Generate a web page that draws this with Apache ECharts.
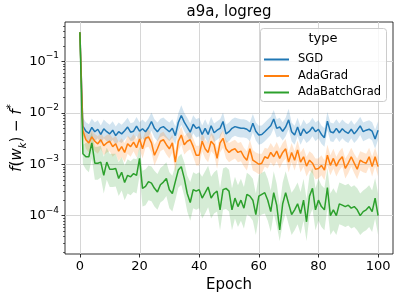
<!DOCTYPE html>
<html><head><meta charset="utf-8">
<script src="https://cdn.jsdelivr.net/npm/echarts@6/dist/echarts.min.js"></script>
<style>html,body{margin:0;padding:0;background:#fff}#c{width:399px;height:299px}</style>
</head><body><div id="c"></div>
<script>
// ---------- data ----------
const epochs = Array.from({length: 101}, (_, i) => i);
// x axis positions from -5 to 105 (the plot has a small margin on both sides of epochs 0..100)
const xCategories = Array.from({length: 111}, (_, i) => String(i - 5));
const seriesNames = ['SGD', 'AdaGrad', 'AdaBatchGrad'];
const xTicks = [0, 20, 40, 60, 80, 100];
const yTicks = [1e-4, 1e-3, 1e-2, 1e-1];

const sgdMean = [0.37,
5.5e-3,4.4e-3,4.0e-3,5.2e-3,4.3e-3,4.8e-3,3.8e-3,4.9e-3,4.3e-3,3.9e-3,
4.6e-3,3.6e-3,4.3e-3,3.9e-3,4.5e-3,5.3e-3,4.2e-3,4.4e-3,5.5e-3,4.4e-3,
4.9e-3,4.3e-3,5.2e-3,6.8e-3,5.0e-3,4.3e-3,5.1e-3,5.4e-3,4.8e-3,4.3e-3,
5.0e-3,3.6e-3,6.5e-3,8.9e-3,6.6e-3,5.3e-3,4.2e-3,6.0e-3,5.0e-3,5.3e-3,
3.8e-3,5.0e-3,3.8e-3,5.6e-3,4.1e-3,4.6e-3,5.0e-3,6.8e-3,3.9e-3,4.3e-3,
5.0e-3,5.4e-3,5.2e-3,5.0e-3,5.0e-3,4.8e-3,4.3e-3,6.3e-3,4.4e-3,3.7e-3,
3.8e-3,4.3e-3,4.9e-3,5.6e-3,7.6e-3,5.0e-3,5.3e-3,4.4e-3,5.3e-3,7.3e-3,
4.3e-3,3.7e-3,5.3e-3,3.6e-3,4.9e-3,4.0e-3,4.4e-3,5.3e-3,4.3e-3,4.8e-3,
3.8e-3,3.3e-3,6.9e-3,4.3e-3,4.1e-3,5.0e-3,4.1e-3,4.9e-3,4.3e-3,4.0e-3,
4.8e-3,3.9e-3,4.6e-3,5.6e-3,4.3e-3,4.6e-3,4.8e-3,4.4e-3,3.1e-3,4.6e-3];
const sgdUpper = [0.38,
8.0e-3,6.6e-3,6.0e-3,7.8e-3,6.5e-3,7.2e-3,5.7e-3,7.4e-3,6.5e-3,5.9e-3,
6.9e-3,5.4e-3,6.5e-3,5.9e-3,6.8e-3,8.0e-3,6.3e-3,6.6e-3,8.3e-3,6.6e-3,
7.4e-3,6.5e-3,7.8e-3,1.02e-2,7.5e-3,6.5e-3,7.7e-3,8.1e-3,7.2e-3,6.5e-3,
7.5e-3,5.4e-3,9.8e-3,1.4e-2,1.0e-2,8.0e-3,6.3e-3,9.0e-3,7.5e-3,8.0e-3,
5.7e-3,7.5e-3,5.7e-3,8.4e-3,6.2e-3,6.9e-3,7.5e-3,1.02e-2,5.9e-3,6.5e-3,
7.5e-3,8.1e-3,7.8e-3,7.5e-3,7.5e-3,7.2e-3,6.5e-3,9.5e-3,6.6e-3,5.6e-3,
5.7e-3,6.5e-3,7.4e-3,8.4e-3,1.14e-2,7.5e-3,8.0e-3,6.6e-3,8.0e-3,1.2e-2,
6.5e-3,5.6e-3,8.0e-3,5.4e-3,7.4e-3,6.0e-3,6.6e-3,8.0e-3,6.5e-3,7.2e-3,
5.7e-3,5.0e-3,1.04e-2,6.5e-3,6.2e-3,7.5e-3,6.2e-3,7.4e-3,6.5e-3,6.0e-3,
7.2e-3,5.9e-3,6.9e-3,8.4e-3,6.5e-3,6.9e-3,7.2e-3,6.6e-3,4.7e-3,6.9e-3];
const sgdLower = [0.36,
3.6e-3,2.9e-3,2.6e-3,3.4e-3,2.8e-3,3.2e-3,2.5e-3,3.2e-3,2.8e-3,2.6e-3,
3.0e-3,2.4e-3,2.8e-3,2.6e-3,3.0e-3,3.5e-3,2.8e-3,2.9e-3,3.6e-3,2.9e-3,
3.2e-3,2.8e-3,3.4e-3,4.5e-3,3.3e-3,2.8e-3,3.4e-3,3.6e-3,3.2e-3,2.8e-3,
3.3e-3,2.4e-3,4.3e-3,5.9e-3,4.4e-3,3.5e-3,2.8e-3,4.0e-3,3.3e-3,3.5e-3,
2.5e-3,3.3e-3,2.5e-3,3.7e-3,2.7e-3,3.0e-3,3.3e-3,4.5e-3,2.6e-3,2.8e-3,
3.3e-3,3.6e-3,3.4e-3,3.3e-3,3.3e-3,3.2e-3,2.8e-3,4.2e-3,2.9e-3,2.4e-3,
2.5e-3,2.8e-3,3.2e-3,3.7e-3,5.0e-3,3.3e-3,3.5e-3,2.9e-3,3.5e-3,4.8e-3,
2.8e-3,2.4e-3,3.5e-3,2.4e-3,3.2e-3,2.6e-3,2.9e-3,3.5e-3,2.8e-3,3.2e-3,
2.5e-3,2.2e-3,4.6e-3,2.8e-3,2.7e-3,3.3e-3,2.7e-3,3.2e-3,2.8e-3,2.6e-3,
3.2e-3,2.6e-3,3.0e-3,3.7e-3,2.8e-3,3.0e-3,3.2e-3,2.9e-3,2.0e-3,3.0e-3];

const adaMean = [0.37,
4.5e-3,3.0e-3,2.6e-3,3.4e-3,2.8e-3,2.5e-3,3.0e-3,2.3e-3,2.6e-3,2.8e-3,
2.2e-3,2.5e-3,1.8e-3,2.2e-3,1.7e-3,2.5e-3,2.2e-3,2.7e-3,2.1e-3,3.1e-3,
2.0e-3,3.2e-3,3.4e-3,2.6e-3,1.5e-3,2.0e-3,2.8e-3,3.0e-3,2.4e-3,2.0e-3,
2.6e-3,1.1e-3,2.8e-3,3.7e-3,2.4e-3,2.8e-3,3.0e-3,2.2e-3,1.5e-3,1.5e-3,
2.8e-3,2.0e-3,1.7e-3,2.8e-3,2.4e-3,1.3e-3,2.6e-3,3.2e-3,2.0e-3,1.7e-3,
1.9e-3,2.0e-3,1.7e-3,1.8e-3,1.4e-3,1.2e-3,2.0e-3,1.2e-3,1.1e-3,1.0e-3,
1.05e-3,1.4e-3,1.3e-3,1.7e-3,1.4e-3,1.8e-3,1.3e-3,1.7e-3,2.0e-3,1.1e-3,
1.7e-3,1.2e-3,1.9e-3,1.1e-3,1.4e-3,9.2e-4,1.2e-3,1.05e-3,8.0e-4,8.3e-4,
9.5e-4,7.7e-4,1.5e-3,9.5e-4,1.3e-3,9.2e-4,1.2e-3,1.4e-3,8.3e-4,1.05e-3,
1.4e-3,1.05e-3,8.0e-4,1.2e-3,1.1e-3,1.05e-3,1.4e-3,9.0e-4,1.4e-3,9.0e-4];
const adaUpper = [0.38,
6.0e-3,4.2e-3,3.7e-3,4.6e-3,3.9e-3,3.5e-3,4.2e-3,3.3e-3,3.7e-3,3.9e-3,
3.2e-3,3.6e-3,2.7e-3,3.2e-3,2.6e-3,3.6e-3,3.2e-3,3.9e-3,3.1e-3,4.4e-3,
3.0e-3,4.5e-3,4.8e-3,3.8e-3,2.4e-3,3.0e-3,4.0e-3,4.3e-3,3.5e-3,3.0e-3,
3.8e-3,1.8e-3,4.0e-3,5.4e-3,3.5e-3,4.0e-3,4.3e-3,3.2e-3,2.3e-3,2.3e-3,
4.1e-3,3.0e-3,2.6e-3,4.1e-3,3.5e-3,2.0e-3,3.8e-3,4.6e-3,3.0e-3,2.6e-3,
2.8e-3,3.0e-3,2.6e-3,2.7e-3,2.1e-3,1.8e-3,3.0e-3,1.9e-3,1.7e-3,1.6e-3,
1.6e-3,2.1e-3,2.0e-3,2.6e-3,2.1e-3,2.7e-3,2.0e-3,2.6e-3,3.1e-3,1.7e-3,
2.6e-3,1.8e-3,2.9e-3,1.7e-3,2.1e-3,1.4e-3,1.8e-3,1.6e-3,1.3e-3,1.3e-3,
1.5e-3,1.2e-3,2.4e-3,1.5e-3,2.0e-3,1.4e-3,1.8e-3,2.1e-3,1.3e-3,1.6e-3,
2.1e-3,1.6e-3,1.3e-3,1.8e-3,1.7e-3,1.6e-3,2.1e-3,1.4e-3,2.1e-3,1.4e-3];
const adaLower = [0.36,
3.2e-3,2.0e-3,1.7e-3,2.3e-3,1.8e-3,1.6e-3,2.0e-3,1.5e-3,1.7e-3,1.8e-3,
1.4e-3,1.6e-3,1.15e-3,1.4e-3,1.1e-3,1.6e-3,1.4e-3,1.8e-3,1.35e-3,2.0e-3,
1.3e-3,2.1e-3,2.2e-3,1.7e-3,9.5e-4,1.3e-3,1.8e-3,1.95e-3,1.55e-3,1.3e-3,
1.7e-3,6.8e-4,1.8e-3,2.4e-3,1.55e-3,1.8e-3,1.95e-3,1.4e-3,9.5e-4,9.5e-4,
1.8e-3,1.3e-3,1.1e-3,1.8e-3,1.55e-3,8.2e-4,1.7e-3,2.1e-3,1.3e-3,1.1e-3,
1.2e-3,1.3e-3,1.1e-3,1.15e-3,9.0e-4,7.6e-4,1.3e-3,7.6e-4,7.0e-4,6.4e-4,
6.7e-4,9.0e-4,8.3e-4,1.1e-3,9.0e-4,1.15e-3,8.3e-4,1.1e-3,1.3e-3,7.0e-4,
1.1e-3,7.6e-4,1.2e-3,7.0e-4,9.0e-4,5.8e-4,7.6e-4,6.7e-4,5.1e-4,5.3e-4,
6.1e-4,4.9e-4,9.6e-4,6.1e-4,8.3e-4,5.8e-4,7.6e-4,9.0e-4,5.3e-4,6.7e-4,
9.0e-4,6.7e-4,5.1e-4,7.6e-4,7.0e-4,6.7e-4,9.0e-4,5.8e-4,9.0e-4,5.8e-4];

const abgMean = [0.37,
1.6e-3,1.4e-3,1.4e-3,2.6e-3,1.05e-3,1.05e-3,1.1e-3,6.1e-4,1.1e-3,8.0e-4,
8.0e-4,8.3e-4,5.3e-4,7.0e-4,4.4e-4,6.1e-4,5.7e-4,6.6e-4,6.1e-4,1.3e-3,
3.4e-4,3.7e-4,4.6e-4,4.3e-4,3.4e-4,2.9e-4,4.0e-4,4.5e-4,5.3e-4,3.2e-4,
2.7e-4,4.6e-4,7.7e-4,9.0e-4,5.3e-4,2.7e-4,1.8e-4,3.2e-4,3.0e-4,3.2e-4,
2.2e-4,2.8e-4,3.6e-4,2.2e-4,2.7e-4,3.0e-4,1.3e-4,3.2e-4,3.4e-4,3.0e-4,
1.3e-4,2.2e-4,1.5e-4,2.0e-4,1.4e-4,2.6e-4,2.4e-4,2.0e-4,1.05e-4,2.4e-4,
2.6e-4,2.8e-4,2.0e-4,1.2e-4,2.8e-4,1.6e-4,5.3e-5,1.7e-4,2.8e-4,1.7e-4,
1.05e-4,1.3e-4,1.7e-4,1.1e-4,2.0e-4,7.6e-5,2.4e-4,3.4e-4,1.3e-4,2.0e-4,
1.5e-4,1.3e-4,3.5e-4,1.0e-4,1.3e-4,1.0e-4,1.7e-4,1.6e-4,1.5e-4,1.6e-4,
1.4e-4,1.5e-4,1.3e-4,1.0e-4,1.2e-4,1.3e-4,1.5e-4,1.2e-4,2.2e-4,1.0e-4];
const abgUpper = [0.38,
2.4e-3,2.6e-3,2.8e-3,4.2e-3,2.2e-3,2.2e-3,2.3e-3,1.4e-3,2.1e-3,1.6e-3,
1.6e-3,1.6e-3,1.1e-3,1.4e-3,9.5e-4,1.25e-3,1.15e-3,1.3e-3,1.25e-3,2.2e-3,
7.5e-4,8.0e-4,9.5e-4,9.0e-4,7.5e-4,6.5e-4,8.5e-4,9.5e-4,1.1e-3,7.0e-4,
6.0e-4,9.5e-4,1.4e-3,1.6e-3,1.1e-3,6.0e-4,4.5e-4,7.0e-4,6.5e-4,7.0e-4,
5.7e-4,7.3e-4,9.4e-4,5.7e-4,7.0e-4,7.8e-4,3.4e-4,8.3e-4,8.8e-4,7.8e-4,
3.4e-4,5.7e-4,3.9e-4,5.2e-4,3.6e-4,6.8e-4,6.2e-4,5.2e-4,2.7e-4,6.2e-4,
6.8e-4,7.3e-4,5.2e-4,3.1e-4,7.3e-4,4.2e-4,1.6e-4,4.4e-4,7.3e-4,4.4e-4,
2.8e-4,3.4e-4,4.4e-4,2.9e-4,5.2e-4,2.1e-4,6.2e-4,8.5e-4,3.4e-4,5.2e-4,
3.9e-4,3.4e-4,8.5e-4,2.7e-4,3.4e-4,2.7e-4,4.4e-4,4.2e-4,3.9e-4,4.2e-4,
3.6e-4,3.9e-4,3.4e-4,2.7e-4,3.1e-4,3.4e-4,3.9e-4,3.1e-4,5.4e-4,2.7e-4];
const abgLower = [0.36,
1.0e-3,8.0e-4,7.0e-4,1.3e-3,5.0e-4,5.0e-4,5.5e-4,2.7e-4,5.0e-4,3.6e-4,
3.6e-4,3.7e-4,2.4e-4,3.1e-4,2.0e-4,2.7e-4,2.5e-4,2.9e-4,2.7e-4,6.0e-4,
1.5e-4,1.6e-4,2.0e-4,1.9e-4,1.5e-4,1.3e-4,1.8e-4,2.0e-4,2.4e-4,1.4e-4,
1.2e-4,2.0e-4,3.5e-4,4.0e-4,2.4e-4,1.2e-4,8.0e-5,1.4e-4,1.3e-4,1.4e-4,
8.8e-5,1.1e-4,1.45e-4,8.8e-5,1.1e-4,1.2e-4,5.2e-5,1.3e-4,1.35e-4,1.2e-4,
5.2e-5,8.8e-5,6.0e-5,8.0e-5,5.6e-5,1.05e-4,9.6e-5,8.0e-5,4.2e-5,9.6e-5,
1.05e-4,1.1e-4,8.0e-5,4.8e-5,1.1e-4,6.4e-5,3.2e-5,6.8e-5,1.1e-4,6.8e-5,
4.2e-5,5.2e-5,6.8e-5,4.4e-5,8.0e-5,3.2e-5,9.6e-5,1.35e-4,5.2e-5,8.0e-5,
6.0e-5,5.2e-5,1.4e-4,4.2e-5,5.2e-5,4.2e-5,6.8e-5,6.4e-5,6.0e-5,6.4e-5,
5.6e-5,6.0e-5,5.2e-5,4.2e-5,4.8e-5,5.2e-5,6.0e-5,4.8e-5,8.8e-5,4.2e-5];

// ---------- chart ----------
const FONT = 'DejaVu Sans';
const COLORS = ['#1f77b4', '#ff7f0e', '#2ca02c'];
const GRID_COLOR = '#d6d6d6';
const Y_MIN = 1.795e-5, Y_MAX = 0.586;
const minorY = [];
for (let n = -5; n <= -1; n++) for (let k = 2; k <= 9; k++) {
  const v = k * Math.pow(10, n);
  if (v > Y_MIN && v < Y_MAX) minorY.push(+v.toPrecision(3));
}
const isMajorX = (idx, val) => xTicks.indexOf(Number(val)) >= 0;

function pts(arr) { return arr.map((v, i) => [String(epochs[i]), v]); }
function meanSeries(name, arr, color) {
  return {type: 'line', name, data: pts(arr), symbol: 'none', color,
    lineStyle: {width: 1.5, color}, emphasis: {disabled: true}, z: 2};
}
// confidence band: one polygon through the upper values and back along the lower values
function bandSeries(name, lo, up, color) {
  return {
    type: 'custom', name, color, silent: true, z: 2, clip: true,
    data: lo.map((l, i) => [String(epochs[i]), l, up[i]]),
    encode: {x: 0, y: [1, 2]},
    renderItem(params, api) {
      if (params.dataIndexInside !== 0) return null;
      const n = params.dataInsideLength;
      const top = [], bot = [];
      for (let i = 0; i < n; i++) {
        top.push(api.coord([api.value(0, i), api.value(2, i)]));
        bot.push(api.coord([api.value(0, i), api.value(1, i)]));
      }
      return {type: 'polygon', shape: {points: top.concat(bot.reverse())},
        style: {fill: color, opacity: 0.2}};
    }
  };
}
// minor ticks of the log y axis, placed through the axis scale
const minorTickSeries = {
  type: 'custom', name: 'minor ticks', silent: true, clip: false, z: 5,
  data: minorY.map(v => [xCategories[0], v]), encode: {x: 0, y: 1},
  renderItem(params, api) {
    const y = Math.round(api.coord([api.value(0), api.value(1)])[1]) + 0.5;
    const x0 = params.coordSys.x;
    return {type: 'line', shape: {x1: x0 - 2, y1: y, x2: x0, y2: y},
      style: {stroke: '#000', lineWidth: 0.6}};
  }
};
// vertical grid lines at the x tick values, placed through the axis scale
const xGridSeries = {
  type: 'custom', name: 'x grid', silent: true, clip: false, z: 0,
  data: xTicks.map(v => [String(v), Y_MIN]), encode: {x: 0, y: 1},
  renderItem(params, api) {
    const x = Math.round(api.coord([api.value(0), api.value(1)])[0]) + 0.5;
    const cs = params.coordSys;
    return {type: 'line', shape: {x1: x, y1: cs.y, x2: x, y2: cs.y + cs.height},
      style: {stroke: GRID_COLOR, lineWidth: 1}};
  }
};

const series = [
  xGridSeries,
  meanSeries(seriesNames[0], sgdMean, COLORS[0]),
  bandSeries('SGD band', sgdLower, sgdUpper, COLORS[0]),
  meanSeries(seriesNames[1], adaMean, COLORS[1]),
  bandSeries('AdaGrad band', adaLower, adaUpper, COLORS[1]),
  meanSeries(seriesNames[2], abgMean, COLORS[2]),
  bandSeries('AdaBatchGrad band', abgLower, abgUpper, COLORS[2]),
  minorTickSeries
];

function yLabel(v) {
  const e = Math.round(Math.log10(v));
  return '{b|10}{s|' + (e < 0 ? '\u2212' : '') + Math.abs(e) + '}';
}

const chart = echarts.init(document.getElementById('c'), null, {renderer: 'canvas'});
chart.setOption({
  animation: false,
  backgroundColor: '#fff',
  textStyle: {fontFamily: FONT},
  grid: {left: 65, right: 6, top: 22, bottom: 45, outerBoundsMode: 'none', containLabel: false,
    show: true, borderColor: '#000', borderWidth: 0.8, backgroundColor: 'transparent'},
  xAxis: {
    type: 'category', data: xCategories, boundaryGap: false,
    axisLine: {show: false, onZero: false},
    axisTick: {show: true, interval: isMajorX, length: 3.5, lineStyle: {color: '#000', width: 0.8}},
    axisLabel: {interval: isMajorX, color: '#000', fontSize: 13, fontFamily: FONT, margin: 6},
    splitLine: {show: false},
    name: 'Epoch', nameLocation: 'middle', nameGap: 21,
    nameTextStyle: {color: '#000', fontSize: 15, fontFamily: FONT}
  },
  yAxis: {
    type: 'log', logBase: 10, min: Y_MIN, max: Y_MAX,
    axisLine: {show: false, onZero: false},
    axisTick: {show: true, length: 3.5, lineStyle: {color: '#000', width: 0.8}, customValues: yTicks},
    axisLabel: {customValues: yTicks, formatter: yLabel, margin: 6, color: '#000',
      rich: {
        b: {fontFamily: FONT, fontSize: 13, color: '#000', lineHeight: 20},
        s: {fontFamily: FONT, fontSize: 9, color: '#000', lineHeight: 9, verticalAlign: 'top'}
      }},
    splitLine: {show: true, lineStyle: {color: GRID_COLOR, width: 1}},
    name: '{it|f}{n|(}{it|w}{sub|k}{n|) \u2212 }{it|f}{sup|*}',
    nameLocation: 'middle', nameGap: 37, nameRotate: 90, nameMoveOverlap: false,
    nameTextStyle: {color: '#000', rich: {
      it: {fontFamily: FONT, fontStyle: 'italic', fontSize: 15, color: '#000', lineHeight: 22},
      n: {fontFamily: FONT, fontSize: 15, color: '#000', lineHeight: 22},
      sub: {fontFamily: FONT, fontStyle: 'italic', fontSize: 10, color: '#000', lineHeight: 10, verticalAlign: 'bottom'},
      sup: {fontFamily: FONT, fontSize: 10, color: '#000', lineHeight: 10, verticalAlign: 'top'}
    }}
  },
  legend: {
    data: seriesNames, orient: 'vertical', left: 264, top: 52, padding: 0,
    itemGap: 1.5, itemWidth: 25, itemHeight: 2, icon: 'rect', selectedMode: false, z: 20,
    textStyle: {fontFamily: FONT, fontSize: 11.5, color: '#000', lineHeight: 15, padding: [0, 0, 0, 4]}
  },
  graphic: [
    {type: 'rect', z: 10, shape: {x: 260.5, y: 28.5, width: 126, height: 73, r: 3},
      style: {fill: 'rgba(255,255,255,0.8)', stroke: '#cccccc', lineWidth: 1}},
    {type: 'text', z: 20, x: 323, y: 39,
      style: {text: 'type', font: '13px "DejaVu Sans"', fill: '#000', textAlign: 'center', textVerticalAlign: 'middle'}},
    {type: 'text', z: 20, x: 229, y: 12,
      style: {text: 'a9a, logreg', font: '15px "DejaVu Sans"', fill: '#000', textAlign: 'center', textVerticalAlign: 'middle'}}
  ],
  series
});
</script>
</body></html>
